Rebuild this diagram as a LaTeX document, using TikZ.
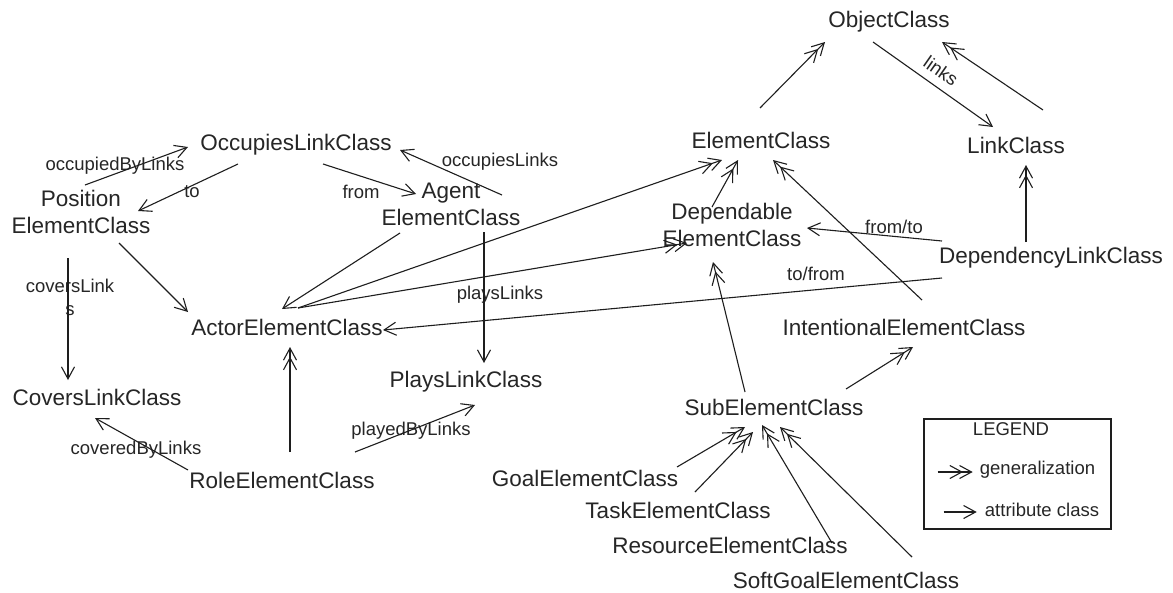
\documentclass[tikz,border=0pt]{standalone}
\usepackage{fontspec}
\setmainfont{Liberation Sans}
\usetikzlibrary{arrows.meta,calc}
\definecolor{ink}{RGB}{38,38,38}
\definecolor{wire}{RGB}{30,30,30}
\tikzset{
  cls/.style={font=\fontsize{22.5}{27}\selectfont, inner sep=0pt, align=center, text=ink},
  lbl/.style={font=\fontsize{18.5}{23}\selectfont, inner sep=0pt, align=center, text=ink},
  link/.style={draw=wire, line width=1.1pt},
  attr/.style={link, -{Straight Barb[length=12pt,width=13pt]}},
  gen/.style={link, -{Straight Barb[length=12pt,width=13pt,sep=-4pt]Straight Barb[length=12pt,width=13pt]}},
}
\begin{document}
\begin{tikzpicture}[x=1pt,y=-1pt]
  \fill[white] (0,0) rectangle (1173,592);
  \useasboundingbox (0,0) rectangle (1173,592);

  % classes
  \node[cls] (obj)     at (889,22)  {ObjectClass};
  \node[cls] (elem)    at (761,140) {ElementClass};
  \node[cls] (lnk)     at (1016,145) {LinkClass};
  \node[cls] (occ)     at (296,145) {OccupiesLinkClass};
  \node[cls] (pos)     at (81,212)  {Position\\ElementClass};
  \node[cls] (agent)   at (451,204) {Agent\\ElementClass};
  \node[cls] (dep)     at (732,225) {Dependable\\ElementClass};
  \node[cls] (deplink) at (1051,258) {DependencyLinkClass};
  \node[cls] (actor)   at (287,327) {ActorElementClass};
  \node[cls] (intent)  at (904,327) {IntentionalElementClass};
  \node[cls] (plays)   at (466,382) {PlaysLinkClass};
  \node[cls] (covers)  at (97,397)  {CoversLinkClass};
  \node[cls] (role)    at (282,480) {RoleElementClass};
  \node[cls] (sub)     at (774,407) {SubElementClass};
  \node[cls] (goal)    at (585,478) {GoalElementClass};
  \node[cls] (task)    at (678,510) {TaskElementClass};
  \node[cls] (res)     at (730,545) {ResourceElementClass};
  \node[cls] (soft)    at (846,580) {SoftGoalElementClass};

  % connector labels
  \node[lbl] (l-occby)  at (115,166) {occupiedByLinks};
  \node[lbl] (l-to)     at (192,192) {to};
  \node[lbl] (l-from)   at (361,192) {from};
  \node[lbl] (l-occ)    at (500,162) {occupiesLinks};
  \node[lbl] (l-cov)    at (70,297)  {coversLink\\s};
  \node[lbl] (l-covby)  at (136,450) {coveredByLinks};
  \node[lbl] (l-playby) at (411,431) {playedByLinks};
  \node[lbl] (l-plays)  at (500,295) {playsLinks};
  \node[lbl, rotate=-35] (l-links) at (941,71) {links};
  \node[lbl] (l-fromto) at (894,227) {from/to};
  \node[lbl] (l-tofrom) at (816,274) {to/from};

  % upper hierarchy
  \draw[gen]  ($(elem)+(-1,-32)$)    -- ($(obj)+(-64,20)$);
  \draw[attr] ($(obj)+(-16,20)$)     -- ($(lnk)+(-23,-18)$);
  \draw[gen]  ($(lnk)+(27,-35)$)     -- ($(obj)+(53,20)$);
  \draw[gen]  ($(deplink)+(-25,-16)$) -- ($(lnk)+(10,20)$);
  \draw[attr] ($(deplink)+(-109,-17)$) -- ($(dep)+(75,3)$);
  \draw[attr] ($(deplink)+(-109,20)$) -- ($(actor)+(96,3)$);
  \draw[gen]  ($(intent)+(18,-27)$)  -- ($(elem)+(12,20)$);
  \draw[gen]  ($(dep)+(-20,-18)$)    -- ($(elem)+(-23,20)$);
  \draw[gen]  ($(actor)+(11,-19)$)   -- ($(elem)+(-39,20)$);
  \draw[gen]  ($(actor)+(11,-19)$)   -- ($(dep)+(-45,18)$);

  % actors, positions, roles
  \draw[attr] ($(pos)+(38,31)$)      -- ($(actor)+(-99,-15)$);
  \draw[attr] ($(agent)+(-51,29)$)   -- ($(actor)+(-5,-18)$);
  \draw[attr] ($(pos)+(4,-27)$)      -- ($(occ)+(-108,2)$);
  \draw[attr] ($(occ)+(-58,19)$)     -- ($(pos)+(57,-1)$);
  \draw[attr] ($(occ)+(27,19)$)      -- ($(agent)+(-35,-10)$);
  \draw[attr] ($(agent)+(51,-9)$)    -- ($(occ)+(104,5)$);
  \draw[attr] ($(pos)+(-13,46)$)     -- ($(covers)+(-29,-17)$);
  \draw[attr] ($(role)+(-94,-10)$)   -- ($(covers)+(-2,21)$);
  \draw[gen]  ($(role)+(8,-28)$)     -- ($(actor)+(3,20)$);
  \draw[attr] ($(role)+(73,-28)$)    -- ($(plays)+(9,23)$);
  \draw[attr] ($(agent)+(33,28)$)    -- ($(plays)+(18,-19)$);

  % sub-elements
  \draw[gen]  ($(sub)+(-29,-15)$)    -- ($(dep)+(-19,37)$);
  \draw[gen]  ($(sub)+(72,-18)$)     -- ($(intent)+(9,20)$);
  \draw[gen]  ($(goal)+(92,-11)$)    -- ($(sub)+(-29,20)$);
  \draw[gen]  ($(task)+(17,-18)$)    -- ($(sub)+(-21,25)$);
  \draw[gen]  ($(res)+(102,-2)$)     -- ($(sub)+(-12,18)$);
  \draw[gen]  ($(soft)+(66,-23)$)    -- ($(sub)+(6,20)$);

  % legend
  \node[draw=wire, line width=1.1pt, minimum width=187pt, minimum height=110pt, inner sep=0pt] (legend) at (1017.5,474) {};
  \node[lbl] (lg-title) at (1011,429) {LEGEND};
  \node[lbl] (lg-gen)   at (1037.5,470) {generalization};
  \node[lbl] (lg-attr)  at (1042,510) {attribute class};
  \draw[gen]  ($(lg-gen.west)+(-42,2)$)  -- ($(lg-gen.west)+(-7,2)$);
  \draw[attr] ($(lg-attr.west)+(-41,2)$) -- ($(lg-attr.west)+(-8,2)$);
\end{tikzpicture}
\end{document}
